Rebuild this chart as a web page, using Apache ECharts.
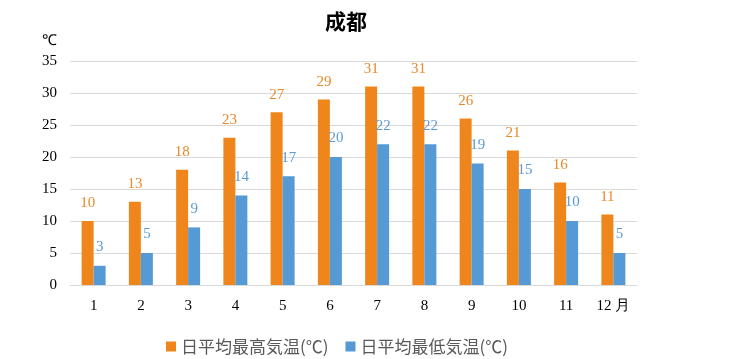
<!DOCTYPE html>
<html><head><meta charset="utf-8">
<script src="https://cdn.jsdelivr.net/npm/echarts@6/dist/echarts.min.js"></script>
<style>html,body{margin:0;padding:0;background:#fff}#c{width:734px;height:359px}</style>
</head><body><div id="c"></div>
<script>
const categories = ['1','2','3','4','5','6','7','8','9','10','11','12 月'];
const highTemps = [10,13,18,23,27,29,31,31,26,21,16,11];
const lowTemps = [3,5,9,14,17,20,22,22,19,15,10,5];
const seriesNames = ['日平均最高気温(℃)','日平均最低気温(℃)'];
const chart = echarts.init(document.getElementById('c'));
const serif = '"Liberation Serif","Times New Roman",serif';
chart.setOption({
  animation:false,
  title:{text:'成都',left:341,top:6,textAlign:'center',textStyle:{fontFamily:'"Noto Sans CJK JP",sans-serif',fontWeight:'bold',fontSize:21,color:'#000'}},
  grid:{left:70,right:97,top:61,bottom:74},
  legend:{top:333,left:161,itemWidth:10,itemHeight:10,itemGap:17,icon:'rect',
    textStyle:{fontFamily:'"Noto Sans CJK JP",sans-serif',fontSize:17,color:'#595959'},data:seriesNames},
  xAxis:{type:'category',data:categories,axisTick:{show:false},
    axisLine:{lineStyle:{color:'#d9d9d9'}},
    axisLabel:{fontFamily:serif,fontSize:15,color:'#000',margin:14}},
  yAxis:{type:'value',min:0,max:35,interval:5,name:'℃',nameLocation:'end',nameGap:12,
    nameTextStyle:{fontFamily:serif,fontSize:15,color:'#000',align:'right',padding:[0,13,0,0]},
    axisLabel:{fontFamily:serif,fontSize:15,color:'#000',margin:13},
    splitLine:{lineStyle:{color:'#d9d9d9'}},axisLine:{show:false},axisTick:{show:false}},
  series:[
    {name:seriesNames[0],type:'bar',data:highTemps,barWidth:12,barGap:'0%',
      itemStyle:{color:'#ef861b'},
      label:{show:true,position:'top',distance:10,fontFamily:serif,fontSize:15,color:'#e8892a'}},
    {name:seriesNames[1],type:'bar',data:lowTemps,barWidth:12,
      itemStyle:{color:'#559ad5'},
      label:{show:true,position:'top',distance:11,fontFamily:serif,fontSize:15,color:'#5b9bd5'}}
  ]
});
</script></body></html>
